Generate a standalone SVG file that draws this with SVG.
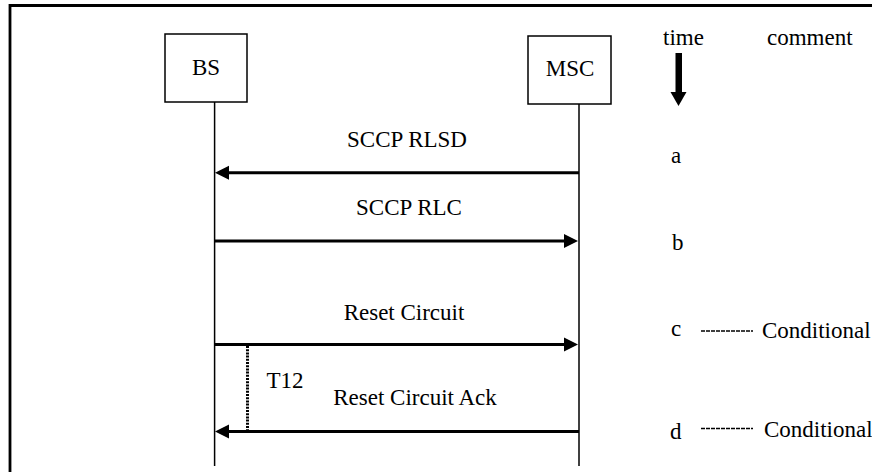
<svg xmlns="http://www.w3.org/2000/svg" width="872" height="472" viewBox="0 0 872 472">
<style>
text{font-family:"Liberation Serif","Times New Roman",serif;font-size:23px;fill:#000}
.box{fill:#fff;stroke:#000;stroke-width:1.5}
.life{stroke:#000;stroke-width:1.5;fill:none}
.msg{stroke:#000;stroke-width:3;fill:none}
.head{fill:#000}
.m{text-anchor:middle}
.cond{stroke:#000;stroke-width:1.6;stroke-dasharray:4 1}
</style>
<rect width="872" height="472" fill="#fff"/>
<path d="M10 472 V5.5 H872" fill="none" stroke="#000" stroke-width="2.8"/>
<g id="BS">
<rect class="box" x="165" y="34" width="82" height="68"/>
<text class="m" x="206" y="75">BS</text>
<line class="life" x1="214.6" y1="102" x2="214.6" y2="466"/>
</g>
<g id="MSC">
<rect class="box" x="528" y="36" width="83" height="68"/>
<text class="m" x="570" y="76">MSC</text>
<line class="life" x1="579" y1="104" x2="579" y2="466"/>
</g>
<g id="time">
<text x="663" y="45">time</text>
<text x="767" y="45">comment</text>
<rect x="675.5" y="53" width="6.5" height="40" fill="#000"/>
<polygon points="670.5,92 686.5,92 678.5,106" fill="#000"/>
</g>
<g id="connectors">
<line class="msg" x1="579" y1="172.7" x2="226" y2="172.7"/>
<polygon class="head" points="215,172.7 229,165.7 229,179.7"/>
<line class="msg" x1="214.6" y1="241" x2="567" y2="241"/>
<polygon class="head" points="578,241 564,234 564,248"/>
<line class="msg" x1="214.6" y1="344.5" x2="567" y2="344.5"/>
<polygon class="head" points="578,344.5 564,337.5 564,351.5"/>
<line class="msg" x1="579" y1="431.5" x2="226" y2="431.5"/>
<polygon class="head" points="215,431.5 229,424.5 229,438.5"/>
<line x1="247.5" y1="346" x2="247.5" y2="431" stroke="#000" stroke-width="3" stroke-dasharray="2 1.2"/>
</g>
<g id="labels">
<text class="m" x="407" y="147">SCCP RLSD</text>
<text class="m" x="409" y="215">SCCP RLC</text>
<text class="m" x="404" y="320">Reset Circuit</text>
<text x="266.5" y="387.5">T12</text>
<text class="m" x="415" y="405">Reset Circuit Ack</text>
</g>
<g id="comments">
<text x="671" y="163">a</text>
<text x="672" y="250">b</text>
<text x="671" y="336">c</text>
<line class="cond" x1="701" y1="331" x2="753" y2="331"/>
<text x="762" y="338">Conditional</text>
<text x="670" y="439">d</text>
<line class="cond" x1="701" y1="428.5" x2="753" y2="428.5"/>
<text x="764" y="437">Conditional</text>
</g>
</svg>
